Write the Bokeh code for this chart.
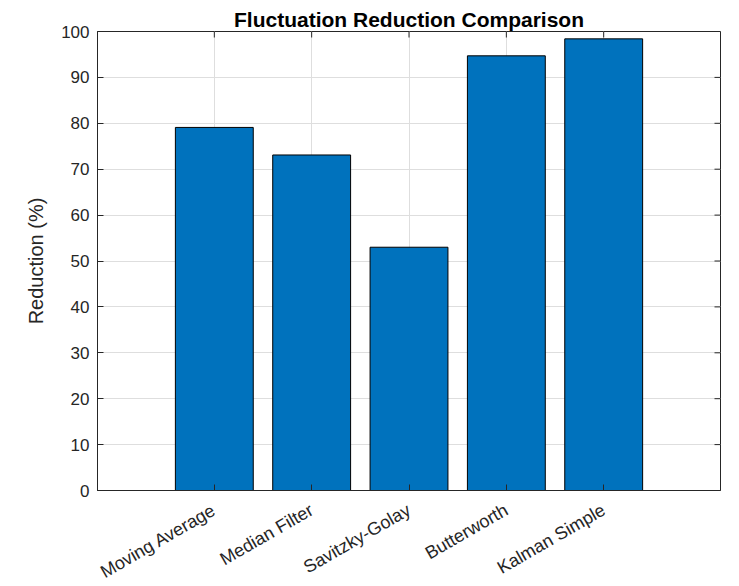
import math
from bokeh.plotting import figure
from bokeh.models import FixedTicker, Range1d, ColumnDataSource
from bokeh.embed import file_html
from bokeh.resources import INLINE

# Data
methods = ["Moving Average", "Median Filter", "Savitzky-Golay", "Butterworth", "Kalman Simple"]
reduction = [79.1, 73.1, 53.0, 94.7, 98.4]
y_ticks = [0, 10, 20, 30, 40, 50, 60, 70, 80, 90, 100]

positions = list(range(1, len(methods) + 1))
src = ColumnDataSource(dict(x=positions, top=reduction))

FONT = "Liberation Sans"
AX = "#262626"
X_MIN, X_MAX = -0.2, 6.2
Y_MIN, Y_MAX = 0, 100

p = figure(frame_width=623, frame_height=459, output_backend="svg", toolbar_location=None,
           x_range=Range1d(X_MIN, X_MAX), y_range=Range1d(Y_MIN, Y_MAX),
           min_border_left=97, min_border_right=19, min_border_top=31, min_border_bottom=96)

p.title.text = "Fluctuation Reduction Comparison"
p.title.align = "center"
p.title.text_font = FONT
p.title.text_font_size = "21px"
p.title.text_font_style = "bold"
p.title.text_color = "#000000"
p.title.standoff = 2
p.title.offset = 0

p.vbar(x="x", top="top", width=0.8, bottom=0, source=src,
       fill_color="#0072BD", line_color="#000000", line_width=1)

def style_axis(ax, size):
    ax.axis_line_color = AX
    ax.axis_line_width = 1
    ax.major_tick_in = 6
    ax.major_tick_out = 0
    ax.minor_tick_in = 0
    ax.minor_tick_out = 0
    ax.major_tick_line_color = AX
    ax.major_label_text_font = FONT
    ax.major_label_text_color = AX
    ax.major_label_text_font_size = size

# bottom x axis
xa = p.xaxis[0]
xa.ticker = FixedTicker(ticks=positions)
xa.major_label_overrides = {pos: name for pos, name in zip(positions, methods)}
xa.major_label_orientation = math.pi / 6
xa.major_label_standoff = 18
style_axis(xa, "18px")

# left y axis
ya = p.yaxis[0]
ya.ticker = FixedTicker(ticks=y_ticks)
ya.axis_label = "Reduction (%)"
ya.axis_label_text_font = FONT
ya.axis_label_text_font_size = "20px"
ya.axis_label_text_font_style = "normal"
ya.axis_label_text_color = AX
ya.axis_label_standoff = 11
ya.major_label_standoff = 8
style_axis(ya, "17px")

# inward tick marks on the top and right sides of the box
p.ray(x=positions, y=[Y_MAX] * len(positions), length=6, length_units="screen",
      angle=-math.pi / 2, line_color=AX, line_width=1)
p.ray(x=[X_MAX] * len(y_ticks), y=y_ticks, length=6, length_units="screen",
      angle=math.pi, line_color=AX, line_width=1)

p.xgrid.ticker = FixedTicker(ticks=positions)
p.ygrid.ticker = FixedTicker(ticks=y_ticks)
p.grid.grid_line_color = "#dedede"
p.grid.grid_line_width = 1
p.outline_line_color = AX
p.outline_line_width = 1
p.background_fill_color = "#ffffff"
p.border_fill_color = "#ffffff"

open("out.html", "w").write(file_html(p, INLINE))
